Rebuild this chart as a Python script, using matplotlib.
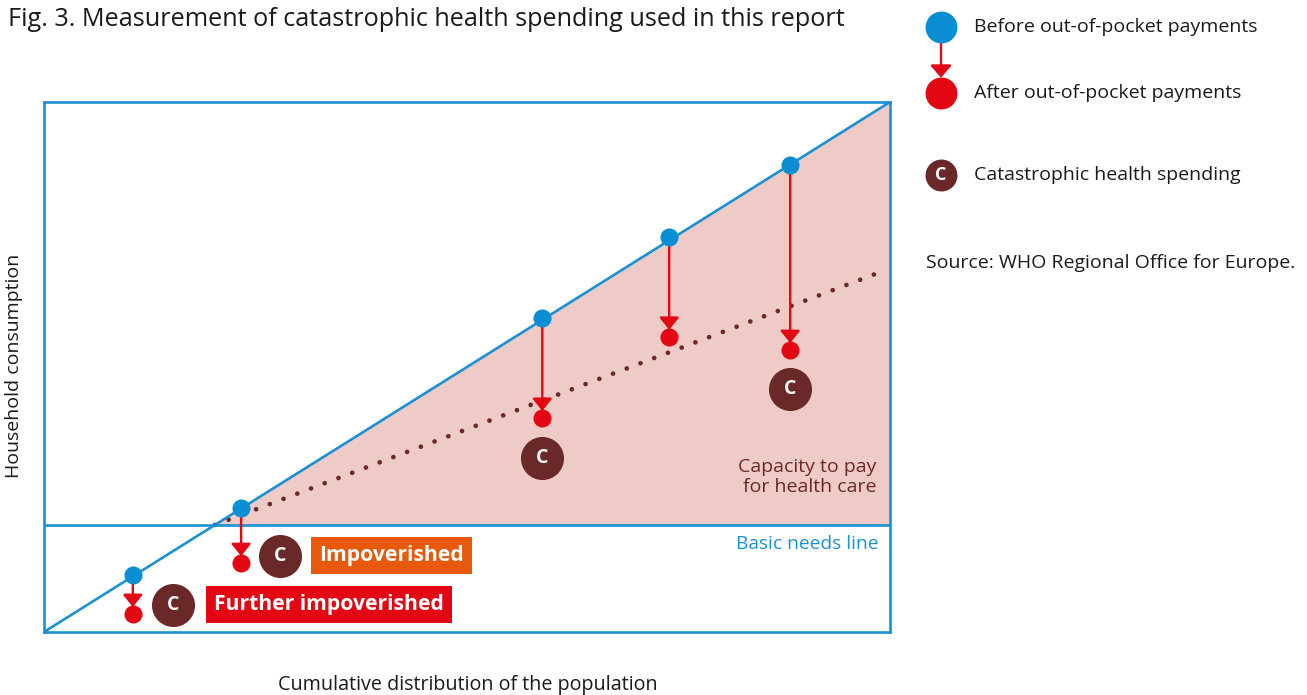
"""Fig. 3 — measurement of catastrophic health spending (schematic)."""

import matplotlib.pyplot as plt

plt.rcParams["font.family"] = ["Open Sans", "DejaVu Sans"]

# ------------------------------------------------------------
# Data (0-100 scale on both axes)
# ------------------------------------------------------------
POP_SHARE = [10.5, 23.3, 58.9, 73.9, 88.2]          # household position
BEFORE_OOP = [10.8, 23.4, 59.2, 74.5, 88.1]         # consumption before OOP
AFTER_OOP = [3.4, 13.0, 40.4, 55.7, 53.2]           # consumption after OOP
BASIC_NEEDS = 20.2
CAPACITY_LINE_X = [20.2, 99.5]
CAPACITY_LINE_Y = [20.2, 68.3]
CATASTROPHIC_X = [15.2, 27.9, 58.9, 88.2]
CATASTROPHIC_Y = [5.1, 14.3, 32.8, 45.8]

BLUE = "#0a8ed3"
LINE_BLUE = "#1b91d4"
RED = "#e30613"
BROWN = "#6b2828"
ORANGE = "#e8590c"
PINK = "#efcbc7"
TEXT = "#1a1a1a"

W, H = 1307, 695
fig = plt.figure(figsize=(W / 100, H / 100), dpi=100)

# overlay in pixel coords for text / legend
over = fig.add_axes([0, 0, 1, 1])
over.set_xlim(0, W)
over.set_ylim(H, 0)
over.axis("off")

ax = fig.add_axes([44 / W, (H - 632) / H, 846 / W, 530 / H])
ax.set_xlim(0, 100)
ax.set_ylim(0, 100)
ax.set_xticks([])
ax.set_yticks([])
for sp in ax.spines.values():
    sp.set_color(LINE_BLUE)
    sp.set_linewidth(1.9)

# shaded capacity-to-pay area
ax.fill([BASIC_NEEDS, 100, 100], [BASIC_NEEDS, 100, BASIC_NEEDS],
        color=PINK, lw=0, zorder=1)
ax.plot([0, 100], [0, 100], color=LINE_BLUE, lw=1.9, zorder=3)
ax.axhline(BASIC_NEEDS, color=LINE_BLUE, lw=1.9, zorder=3)

ax.plot(CAPACITY_LINE_X, CAPACITY_LINE_Y, color=BROWN, lw=3.4,
        linestyle=(0, (0.01, 3.1)), dash_capstyle="round", zorder=2)

# arrows from before to after
for x, yb, ya in zip(POP_SHARE, BEFORE_OOP, AFTER_OOP):
    ax.annotate("", xy=(x, ya), xytext=(x, yb),
                arrowprops=dict(arrowstyle="-|>,head_length=0.75,head_width=0.6",
                                color=RED, lw=1.7, shrinkA=0, shrinkB=5,
                                mutation_scale=10), zorder=4)
ax.scatter(POP_SHARE, BEFORE_OOP, s=13 ** 2, color=BLUE, lw=0, zorder=5)
ax.scatter(POP_SHARE, AFTER_OOP, s=13 ** 2, color=RED, lw=0, zorder=5)

ax.scatter(CATASTROPHIC_X, CATASTROPHIC_Y, s=31 ** 2, color=BROWN, lw=0, zorder=5)
for x, y in zip(CATASTROPHIC_X, CATASTROPHIC_Y):
    ax.text(x, y, "C", color="white", fontsize=14, fontweight="bold",
            ha="center", va="center", zorder=6)

ax.text(41.1, 14.5, "Impoverished", color="white", fontsize=15.2,
        fontweight="bold", ha="center", va="center", zorder=6,
        bbox=dict(boxstyle="square,pad=0.38", fc=ORANGE, ec="none"))
ax.text(33.7, 5.1, "Further impoverished", color="white", fontsize=15.2,
        fontweight="bold", ha="center", va="center", zorder=6,
        bbox=dict(boxstyle="square,pad=0.38", fc=RED, ec="none"))

ax.text(98.4, 29.2, "Capacity to pay\nfor health care", color=BROWN,
        fontsize=14, ha="right", va="center", linespacing=1.15)
ax.text(98.6, 16.6, "Basic needs line", color=LINE_BLUE, fontsize=13.8,
        ha="right", va="center")

# titles and axis labels
over.text(8, 20, "Fig. 3. Measurement of catastrophic health spending used in this report",
          fontsize=18.2, color=TEXT, ha="left", va="center")
over.text(468, 685, "Cumulative distribution of the population", fontsize=14.2,
          color=TEXT, ha="center", va="center")
over.text(14, 366, "Household consumption", fontsize=14, color=TEXT,
          rotation=90, ha="center", va="center")

# legend
over.annotate("", xy=(941, 93), xytext=(941, 27),
              arrowprops=dict(arrowstyle="-|>,head_length=0.75,head_width=0.65",
                              color=RED, lw=1.7, shrinkA=0, shrinkB=11,
                              mutation_scale=10))
over.scatter([941], [27], s=23 ** 2, color=BLUE, lw=0, zorder=5)
over.scatter([941], [93], s=23 ** 2, color=RED, lw=0, zorder=5)
over.scatter([941], [175], s=23 ** 2, color=BROWN, lw=0, zorder=5)
over.text(941, 175, "C", color="white", fontsize=13, fontweight="bold",
          ha="center", va="center", zorder=6)
over.text(974, 27, "Before out-of-pocket payments", fontsize=14, color=TEXT,
          va="center")
over.text(974, 93, "After out-of-pocket payments", fontsize=14, color=TEXT,
          va="center")
over.text(974, 175, "Catastrophic health spending", fontsize=14, color=TEXT,
          va="center")
over.text(926, 263, "Source: WHO Regional Office for Europe.", fontsize=14,
          color=TEXT, va="center")

fig.savefig("out.png", dpi=100)
